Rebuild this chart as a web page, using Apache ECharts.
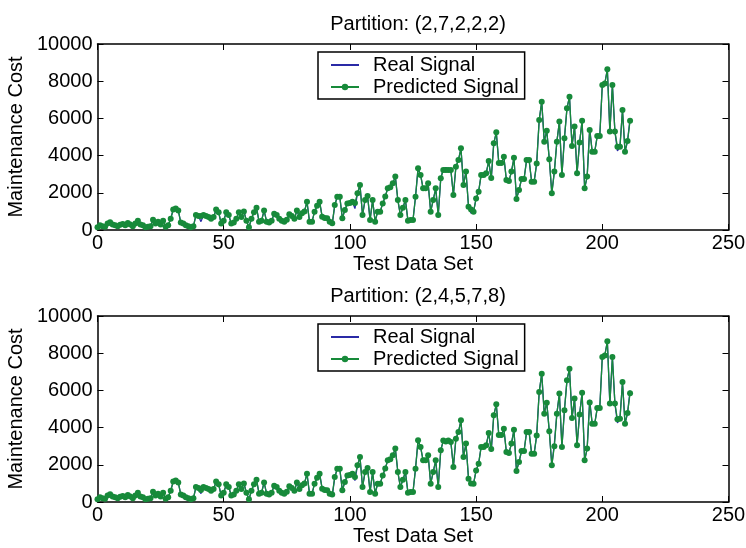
<!DOCTYPE html>
<html>
<head>
<meta charset="utf-8">
<script src="https://cdn.jsdelivr.net/npm/echarts@6/dist/echarts.min.js"></script>
<style>
html,body{margin:0;padding:0;background:#fff;}
#c{width:746px;height:548px;}
</style>
</head>
<body>
<div id="c"></div>
<script>
// ---- data ----
var titles = ['Partition: (2,7,2,2,2)', 'Partition: (2,4,5,7,8)'];
var xTicks = [0, 50, 100, 150, 200, 250];
var yTicks = [0, 2000, 4000, 6000, 8000, 10000];
var xLabel = 'Test Data Set';
var yLabel = 'Maintenance Cost';
var seriesNames = ['Real Signal', 'Predicted Signal'];

// real signal, one value per test sample (index 0..211)
var realSignal = [
  150, 250, 200, 180, 350, 420, 300, 250, 200, 280,
  320, 250, 380, 300, 200, 350, 500, 300, 250, 150,
  180, 200, 550, 350, 450, 300, 500, 180, 250, 600,
  1100, 1150, 1050, 400, 350, 250, 200, 150, 200, 800,
  750, 450, 800, 750, 700, 600, 700, 1100, 950, 350,
  500, 950, 800, 350, 400, 600, 950, 700, 1000, 500,
  150, 600, 950, 1200, 450, 500, 1050, 450, 400, 500,
  880, 800, 600, 500, 450, 550, 850, 750, 600, 1050,
  700, 900, 1000, 1520, 450, 450, 985, 1300, 1520, 715,
  650, 630, 450, 300, 1340, 1790, 1790, 630, 1075, 1430,
  1450, 1520, 1150, 1970, 2420, 800, 1610, 1830, 540, 1610,
  450, 985, 985, 1430, 1800, 2240, 2300, 2510, 2870, 1610,
  800, 1200, 1610, 500, 540, 540, 1790, 3315, 2960, 2240,
  2240, 2510, 985, 1610, 2240, 800, 2780, 3300, 3350, 3300,
  3225, 1880, 3400, 3760, 4390, 2420, 3140, 1250, 900, 985,
  1700, 2060, 2960, 2960, 3050, 3710, 2700, 4660, 5250, 3600,
  3600, 3940, 2690, 2630, 3140, 3880, 1670, 2150, 2740, 2740,
  3760, 3760, 2600, 2600, 3580, 5910, 6900, 4750, 5340, 3800,
  1970, 3140, 4750, 5830, 2960, 4930, 6540, 7170, 4520, 5560,
  3050, 4700, 5880, 2240, 2870, 5500, 4210, 4210, 5050, 5050,
  7800, 7880, 8640, 5290, 7800, 5290, 4250, 4480, 6450, 4210,
  4780, 6000
];

// predicted signal = real signal except at these samples: [index, value]
var predictedTopChanges = [
  [41, 750], [93, 360], [102, 1450], [137, 3225], [138, 3225], [139, 3225],
  [148, 1100], [156, 2800], [195, 5380], [206, 4480], [211, 5880]
];
var predictedBottomChanges = [
  [41, 650], [93, 400], [102, 1350], [138, 3250], [148, 1000],
  [156, 2850], [181, 3000], [195, 5350], [206, 4450], [211, 5850]
];

// ---- build ----
function pairs(arr) { return arr.map(function (v, i) { return [i, v]; }); }
function applyChanges(base, changes) {
  var out = base.slice();
  changes.forEach(function (c) { out[c[0]] = c[1]; });
  return out;
}
var predictedTop = applyChanges(realSignal, predictedTopChanges);
var predictedBottom = applyChanges(realSignal, predictedBottomChanges);

var FONT = 'Liberation Sans';
var FS = 20;
var BLUE = '#2a2aa6';
var GREEN = '#178a3a';

var grids = [
  { left: 97.5, right: 17.5, top: 44, height: 186, outerBoundsMode: 'none', containLabel: false },
  { left: 97.5, right: 17.5, top: 316, height: 186, outerBoundsMode: 'none', containLabel: false }
];

var xAxes = [], yAxes = [], series = [], legends = [], titleArr = [];
grids.forEach(function (g, gi) {
  xAxes.push({
    type: 'value', gridIndex: gi, position: 'bottom', min: xTicks[0], max: xTicks[xTicks.length - 1],
    interval: 50,
    name: xLabel, nameLocation: 'middle', nameGap: 24,
    nameTextStyle: { fontFamily: FONT, fontSize: FS, color: '#000' },
    axisLine: { show: true, onZero: false, lineStyle: { color: '#000', width: 1.5 } },
    axisTick: { show: true, inside: true, length: 6, lineStyle: { color: '#000', width: 1 } },
    axisLabel: { fontFamily: FONT, fontSize: FS, color: '#000', margin: 3, formatter: function (v) { return String(v); } },
    splitLine: { show: false }
  });
  xAxes.push({
    type: 'value', gridIndex: gi, position: 'top', min: xTicks[0], max: xTicks[xTicks.length - 1],
    interval: 50,
    axisLine: { show: true, onZero: false, lineStyle: { color: '#000', width: 1.5 } },
    axisTick: { show: true, inside: true, length: 6, lineStyle: { color: '#000', width: 1 } },
    axisLabel: { show: false }, splitLine: { show: false }
  });
  yAxes.push({
    type: 'value', gridIndex: gi, position: 'left', min: yTicks[0], max: yTicks[yTicks.length - 1],
    interval: 2000,
    name: yLabel, nameLocation: 'middle', nameGap: 61, nameRotate: 90,
    nameTextStyle: { fontFamily: FONT, fontSize: FS, color: '#000' },
    axisLine: { show: true, onZero: false, lineStyle: { color: '#000', width: 1.5 } },
    axisTick: { show: true, inside: true, length: 6, lineStyle: { color: '#000', width: 1 } },
    axisLabel: { fontFamily: FONT, fontSize: FS, color: '#000', margin: 5, formatter: function (v) { return String(v); } },
    splitLine: { show: false }
  });
  yAxes.push({
    type: 'value', gridIndex: gi, position: 'right', min: yTicks[0], max: yTicks[yTicks.length - 1],
    interval: 2000,
    axisLine: { show: true, onZero: false, lineStyle: { color: '#000', width: 1.5 } },
    axisTick: { show: true, inside: true, length: 6, lineStyle: { color: '#000', width: 1 } },
    axisLabel: { show: false }, splitLine: { show: false }
  });
  series.push({
    name: seriesNames[0], type: 'line', xAxisIndex: gi * 2, yAxisIndex: gi * 2,
    data: pairs(realSignal), symbol: 'none', color: BLUE,
    lineStyle: { color: BLUE, width: 1.3 }, animation: false, z: 2
  });
  series.push({
    name: seriesNames[1], type: 'line', xAxisIndex: gi * 2, yAxisIndex: gi * 2,
    data: pairs(gi === 0 ? predictedTop : predictedBottom),
    symbol: 'circle', symbolSize: 6, showAllSymbol: true, color: GREEN,
    itemStyle: { color: GREEN, borderWidth: 0 },
    lineStyle: { color: GREEN, width: 1.3 }, animation: false, z: 3
  });
  legends.push({
    orient: 'vertical', left: 318, top: g.top + 8,
    data: [
      { name: seriesNames[0], itemStyle: { color: 'rgba(0,0,0,0)', borderWidth: 0, opacity: 0 } },
      { name: seriesNames[1] }
    ],
    backgroundColor: '#fff', borderColor: '#000', borderWidth: 1.5, borderRadius: 0,
    padding: [2, 6, 1, 12], itemGap: 0, itemWidth: 28, itemHeight: 8,
    textStyle: { fontFamily: FONT, fontSize: FS, color: '#000', padding: [0, 0, 0, 9], lineHeight: 22 },
    selectedMode: false
  });
  titleArr.push({
    text: titles[gi], left: 413, top: g.top - 35, textAlign: 'center',
    textStyle: { fontFamily: FONT, fontSize: FS, fontWeight: 'normal', color: '#000' }
  });
});

var chart = echarts.init(document.getElementById('c'), null, { renderer: 'canvas' });
chart.setOption({
  animation: false,
  backgroundColor: '#fff',
  title: titleArr,
  legend: legends,
  grid: grids,
  xAxis: xAxes,
  yAxis: yAxes,
  series: series
});
</script>
</body>
</html>
